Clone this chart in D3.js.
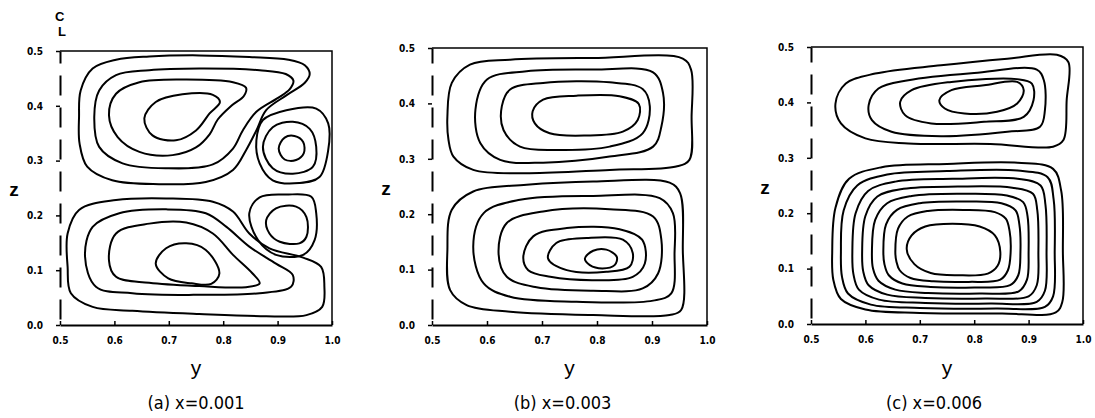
<!DOCTYPE html>
<html lang="en">
<head>
  <meta charset="UTF-8">
  <title>Streamline contours in the y-z plane</title>
  <script src="https://d3js.org/d3.v7.min.js"></script>
  <style>
    body { margin: 0; background: #fff; }
  </style>
</head>
<body>
  <div class="canvas"></div>
  <script>
    // axis ticks and captions
    const yTicks = [0.5, 0.6, 0.7, 0.8, 0.9, 1.0];
    const zTicks = [0.0, 0.1, 0.2, 0.3, 0.4, 0.5];
    const captions = ["(a) x=0.001", "(b) x=0.003", "(c) x=0.006"];

    // closed streamlines, each loop is a list of [y, z] points
    const loopsA = [
      // upper-left cell
      [[0.535,0.380],[0.538,0.428],[0.560,0.468],[0.603,0.484],[0.664,0.490],[0.756,0.492],[0.848,0.489],[0.920,0.484],[0.950,0.474],[0.959,0.458],[0.950,0.442],[0.916,0.419],[0.879,0.392],[0.861,0.355],[0.842,0.319],[0.818,0.283],[0.768,0.261],[0.682,0.257],[0.596,0.264],[0.550,0.289],[0.536,0.331]],
      [[0.563,0.380],[0.572,0.428],[0.603,0.456],[0.664,0.465],[0.756,0.468],[0.867,0.465],[0.915,0.458],[0.929,0.446],[0.922,0.430],[0.900,0.414],[0.861,0.389],[0.836,0.355],[0.818,0.322],[0.781,0.293],[0.695,0.286],[0.615,0.295],[0.572,0.325]],
      [[0.590,0.383],[0.603,0.422],[0.646,0.443],[0.725,0.448],[0.818,0.443],[0.842,0.433],[0.838,0.418],[0.815,0.400],[0.790,0.375],[0.775,0.348],[0.750,0.324],[0.707,0.310],[0.646,0.316],[0.606,0.343]],
      [[0.655,0.377],[0.676,0.407],[0.725,0.421],[0.781,0.420],[0.794,0.407],[0.775,0.386],[0.750,0.355],[0.713,0.337],[0.670,0.346]],
      // upper-right cell
      [[0.861,0.337],[0.873,0.374],[0.916,0.392],[0.971,0.395],[0.993,0.368],[0.993,0.319],[0.977,0.270],[0.940,0.259],[0.891,0.264],[0.867,0.295]],
      [[0.873,0.325],[0.891,0.361],[0.928,0.371],[0.959,0.358],[0.971,0.325],[0.965,0.289],[0.928,0.276],[0.891,0.286]],
      [[0.902,0.322],[0.913,0.342],[0.931,0.345],[0.947,0.334],[0.948,0.313],[0.934,0.301],[0.913,0.302]],
      // lower-right cell
      [[0.848,0.204],[0.867,0.233],[0.916,0.238],[0.962,0.234],[0.971,0.204],[0.968,0.155],[0.947,0.128],[0.897,0.128],[0.864,0.155]],
      [[0.879,0.191],[0.897,0.213],[0.934,0.216],[0.953,0.197],[0.953,0.161],[0.940,0.149],[0.904,0.152],[0.885,0.167]],
      // lower-left cell
      [[0.514,0.167],[0.535,0.210],[0.603,0.228],[0.695,0.231],[0.781,0.225],[0.818,0.207],[0.848,0.167],[0.885,0.140],[0.947,0.123],[0.980,0.106],[0.986,0.070],[0.982,0.033],[0.953,0.018],[0.879,0.016],[0.756,0.020],[0.633,0.026],[0.560,0.033],[0.520,0.058],[0.514,0.106]],
      [[0.546,0.125],[0.560,0.179],[0.609,0.204],[0.695,0.211],[0.768,0.204],[0.806,0.179],[0.848,0.143],[0.897,0.112],[0.928,0.091],[0.925,0.070],[0.867,0.058],[0.756,0.055],[0.633,0.058],[0.566,0.070]],
      [[0.590,0.118],[0.603,0.167],[0.664,0.185],[0.732,0.187],[0.781,0.167],[0.818,0.128],[0.854,0.094],[0.867,0.076],[0.842,0.069],[0.756,0.071],[0.664,0.077],[0.603,0.088]],
      [[0.676,0.112],[0.695,0.140],[0.732,0.149],[0.768,0.137],[0.793,0.094],[0.778,0.075],[0.742,0.076],[0.699,0.085]]
    ];

    const loopsB = [
      // upper cell
      [[0.528,0.377],[0.536,0.437],[0.569,0.470],[0.642,0.479],[0.793,0.482],[0.956,0.481],[0.971,0.461],[0.972,0.377],[0.968,0.298],[0.944,0.286],[0.823,0.280],[0.672,0.274],[0.575,0.280],[0.539,0.304],[0.530,0.334]],
      [[0.579,0.389],[0.600,0.443],[0.672,0.458],[0.793,0.461],[0.902,0.456],[0.920,0.419],[0.917,0.358],[0.902,0.322],[0.823,0.304],[0.702,0.293],[0.624,0.298],[0.588,0.328]],
      [[0.627,0.395],[0.642,0.425],[0.702,0.437],[0.823,0.438],[0.883,0.426],[0.896,0.395],[0.883,0.346],[0.823,0.322],[0.732,0.316],[0.660,0.322],[0.630,0.352]],
      [[0.683,0.386],[0.702,0.407],[0.763,0.414],[0.841,0.413],[0.876,0.399],[0.874,0.370],[0.847,0.349],[0.781,0.342],[0.714,0.346],[0.687,0.364]],
      // lower cell
      [[0.528,0.136],[0.536,0.208],[0.575,0.241],[0.672,0.253],[0.793,0.259],[0.932,0.257],[0.951,0.238],[0.956,0.136],[0.953,0.027],[0.932,0.018],[0.793,0.018],[0.642,0.024],[0.563,0.036],[0.533,0.063]],
      [[0.575,0.142],[0.594,0.202],[0.660,0.226],[0.793,0.233],[0.914,0.229],[0.938,0.202],[0.941,0.130],[0.935,0.057],[0.902,0.044],[0.763,0.042],[0.642,0.051],[0.594,0.075]],
      [[0.621,0.130],[0.636,0.184],[0.702,0.205],[0.823,0.209],[0.902,0.196],[0.917,0.154],[0.911,0.093],[0.883,0.066],[0.793,0.062],[0.690,0.068],[0.636,0.087]],
      [[0.666,0.123],[0.684,0.160],[0.745,0.175],[0.841,0.173],[0.882,0.154],[0.887,0.111],[0.865,0.087],[0.793,0.081],[0.715,0.087],[0.675,0.099]],
      [[0.711,0.120],[0.726,0.148],[0.781,0.157],[0.847,0.154],[0.865,0.130],[0.859,0.105],[0.817,0.096],[0.745,0.099]],
      [[0.778,0.120],[0.793,0.134],[0.817,0.136],[0.836,0.123],[0.832,0.108],[0.810,0.102],[0.787,0.108]]
    ];

    const loopsC = [
      // upper cell
      [[0.545,0.398],[0.564,0.434],[0.618,0.452],[0.739,0.467],[0.861,0.479],[0.952,0.486],[0.973,0.473],[0.970,0.404],[0.964,0.332],[0.945,0.320],[0.830,0.325],[0.679,0.326],[0.600,0.335],[0.555,0.362]],
      [[0.606,0.395],[0.624,0.425],[0.679,0.440],[0.800,0.453],[0.915,0.459],[0.928,0.440],[0.930,0.386],[0.921,0.356],[0.861,0.347],[0.739,0.339],[0.648,0.347],[0.612,0.368]],
      [[0.664,0.401],[0.685,0.422],[0.758,0.437],[0.879,0.442],[0.906,0.434],[0.909,0.404],[0.891,0.374],[0.818,0.365],[0.721,0.362],[0.673,0.377]],
      [[0.736,0.404],[0.758,0.422],[0.818,0.431],[0.879,0.437],[0.891,0.422],[0.879,0.398],[0.842,0.383],[0.782,0.380],[0.746,0.389]],
      // lower cell
      [[0.539,0.130],[0.545,0.210],[0.570,0.262],[0.630,0.283],[0.750,0.289],[0.880,0.291],[0.945,0.280],[0.960,0.240],[0.963,0.130],[0.962,0.040],[0.950,0.021],[0.850,0.019],[0.700,0.020],[0.600,0.026],[0.555,0.045],[0.541,0.080]],
      [[0.555,0.130],[0.560,0.205],[0.585,0.250],[0.640,0.270],[0.750,0.276],[0.880,0.277],[0.935,0.265],[0.946,0.225],[0.948,0.130],[0.945,0.050],[0.930,0.031],[0.840,0.028],[0.700,0.029],[0.610,0.035],[0.568,0.055],[0.557,0.085]],
      [[0.576,0.130],[0.582,0.200],[0.605,0.240],[0.655,0.257],[0.760,0.262],[0.880,0.262],[0.922,0.250],[0.931,0.215],[0.933,0.130],[0.930,0.060],[0.915,0.040],[0.830,0.037],[0.710,0.038],[0.625,0.044],[0.588,0.062],[0.578,0.090]],
      [[0.594,0.130],[0.600,0.195],[0.622,0.230],[0.670,0.244],[0.770,0.248],[0.870,0.246],[0.908,0.235],[0.916,0.205],[0.918,0.130],[0.915,0.070],[0.900,0.050],[0.820,0.046],[0.710,0.047],[0.640,0.053],[0.606,0.070],[0.596,0.095]],
      [[0.612,0.130],[0.618,0.188],[0.640,0.218],[0.685,0.231],[0.775,0.235],[0.860,0.232],[0.890,0.220],[0.898,0.195],[0.900,0.130],[0.897,0.080],[0.882,0.059],[0.810,0.055],[0.715,0.056],[0.655,0.062],[0.624,0.078],[0.614,0.100]],
      [[0.633,0.130],[0.638,0.180],[0.658,0.206],[0.700,0.218],[0.780,0.221],[0.850,0.218],[0.876,0.205],[0.883,0.180],[0.885,0.130],[0.881,0.088],[0.866,0.070],[0.800,0.066],[0.720,0.067],[0.668,0.073],[0.643,0.088],[0.635,0.108]],
      [[0.655,0.130],[0.660,0.172],[0.678,0.194],[0.715,0.204],[0.780,0.206],[0.838,0.202],[0.858,0.190],[0.865,0.168],[0.867,0.130],[0.862,0.097],[0.848,0.080],[0.790,0.076],[0.725,0.077],[0.683,0.083],[0.663,0.097],[0.657,0.113]],
      [[0.676,0.135],[0.685,0.160],[0.710,0.176],[0.760,0.181],[0.810,0.176],[0.838,0.160],[0.848,0.130],[0.843,0.105],[0.825,0.091],[0.770,0.088],[0.720,0.092],[0.690,0.108]]
    ];

    // panel frames in pixels
    const panels = [
      { loops: loopsA, caption: captions[0], left: 60,  right: 332,  top: 51, bottom: 325, capShift: 0,   centerline: true },
      { loops: loopsB, caption: captions[1], left: 432, right: 707,  top: 48, bottom: 325, capShift: -7,  centerline: false },
      { loops: loopsC, caption: captions[2], left: 811, right: 1083, top: 47, bottom: 324, capShift: -13, centerline: false }
    ];

    const tickFont = "'Liberation Sans Narrow', 'DejaVu Sans Condensed', sans-serif";
    const fmt = d3.format(".1f");

    const svg = d3.select(".canvas")
      .append("svg")
      .attr("width", 1095)
      .attr("height", 418);

    panels.forEach(p => {
      const x = d3.scaleLinear().domain([0.5, 1.0]).range([p.left, p.right]);
      const y = d3.scaleLinear().domain([0, 0.5]).range([p.bottom, p.top]);
      const g = svg.append("g");

      const line = d3.line()
        .x(d => x(d[0]))
        .y(d => y(d[1]))
        .curve(d3.curveCatmullRomClosed.alpha(0.5));

      g.selectAll("path.loop")
        .data(p.loops)
        .enter()
        .append("path")
        .attr("class", "loop")
        .attr("d", line)
        .attr("fill", "none")
        .attr("stroke", "#000")
        .attr("stroke-width", 2);

      // top and right frame
      g.append("path")
        .attr("d", `M${x(0.5)},${y(0.5)}H${x(1.0)}V${y(0)}`)
        .attr("fill", "none")
        .attr("stroke", "#000")
        .attr("stroke-width", 1.5);

      const xAxis = d3.axisBottom(x)
        .tickValues(yTicks)
        .tickSizeInner(-4)
        .tickSizeOuter(0)
        .tickPadding(12)
        .tickFormat(fmt);

      const xg = g.append("g")
        .attr("transform", `translate(0, ${y(0)})`)
        .call(xAxis);
      xg.select(".domain").attr("stroke-width", 2);
      xg.selectAll(".tick line").attr("stroke-width", 1.5);
      xg.selectAll("text")
        .attr("font-family", tickFont)
        .attr("font-weight", "bold")
        .attr("font-size", 10)
        .attr("fill", "#000");

      const zAxis = d3.axisLeft(y)
        .tickValues(zTicks)
        .tickSizeInner(4)
        .tickSizeOuter(0)
        .tickPadding(13)
        .tickFormat(fmt);

      const zg = g.append("g")
        .attr("transform", `translate(${x(0.5)}, 0)`)
        .call(zAxis);
      // the left edge is the symmetry plane, drawn dashed
      zg.select(".domain")
        .attr("stroke-width", 2)
        .attr("stroke-dasharray", "20,12")
        .attr("stroke-dashoffset", -6);
      zg.selectAll(".tick line").attr("stroke-width", 1.5);
      zg.selectAll("text")
        .attr("font-family", tickFont)
        .attr("font-weight", "bold")
        .attr("font-size", 10)
        .attr("fill", "#000");

      // axis titles
      g.append("text")
        .attr("x", x(0.5) - 46)
        .attr("y", y(0.25) + 8)
        .attr("text-anchor", "middle")
        .attr("font-family", "'Liberation Sans', Arial, sans-serif")
        .attr("font-weight", "bold")
        .attr("font-size", 19)
        .text("z");

      g.append("text")
        .attr("x", x(0.75))
        .attr("y", 375)
        .attr("text-anchor", "middle")
        .attr("font-family", "'Liberation Sans', Arial, sans-serif")
        .attr("font-size", 21)
        .text("y");

      g.append("text")
        .attr("x", x(0.75) + p.capShift)
        .attr("y", 409)
        .attr("text-anchor", "middle")
        .attr("font-family", tickFont)
        .attr("font-size", 18)
        .text(p.caption);

      // centreline mark above the symmetry plane
      if (p.centerline) {
        const cl = g.append("text")
          .attr("font-family", "'Liberation Sans', Arial, sans-serif")
          .attr("font-weight", "bold")
          .attr("font-size", 13);
        cl.append("tspan").attr("x", x(0.5) - 5).attr("y", 21).text("C");
        cl.append("tspan").attr("x", x(0.5) - 2).attr("y", 36).text("L");
      }
    });
  </script>
</body>
</html>
